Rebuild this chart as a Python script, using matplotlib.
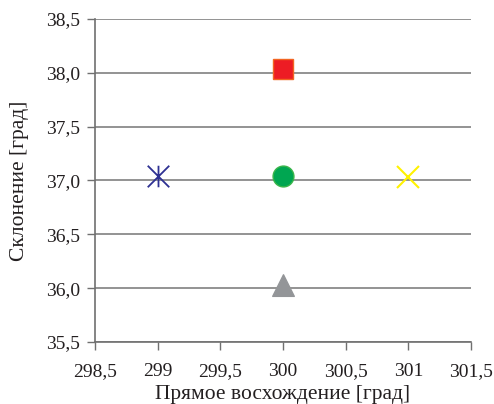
import matplotlib
matplotlib.use("Agg")
import matplotlib.pyplot as plt
from matplotlib.path import Path

plt.rcParams['font.family'] = 'serif'
plt.rcParams['font.serif'] = ['Liberation Serif', 'Times New Roman', 'DejaVu Serif']
FAM = ['Liberation Serif', 'DejaVu Serif']

# data
ra = [299.0, 300.0, 300.0, 301.0, 300.0]
dec = [37.04, 38.04, 37.04, 37.03, 36.03]
markers = ['star6', 's', 'o', 'x', '^']
colors = ['#2e3192', '#ed1c24', '#00a651', '#fff200', '#939598']
edgecolors = ['#2e3192', '#f26522', '#39b54a', '#fff200', '#939598']

x_ticks = [298.5, 299, 299.5, 300, 300.5, 301, 301.5]
x_labels = ['298,5', '299', '299,5', '300', '300,5', '301', '301,5']
y_ticks = [35.5, 36.0, 36.5, 37.0, 37.5, 38.0, 38.5]
y_labels = ['35,5', '36,0', '36,5', '37,0', '37,5', '38,0', '38,5']

star_path = Path([(0, -1), (0, 1), (-1, -1), (1, 1), (-1, 1), (1, -1)],
                 [Path.MOVETO, Path.LINETO, Path.MOVETO, Path.LINETO, Path.MOVETO, Path.LINETO])

fig = plt.figure(figsize=(4.94, 4.04), dpi=100)
ax = fig.add_axes([0.1923, 0.1535, 0.7611, 0.7995])

for x, y, m, c, ec in zip(ra, dec, markers, colors, edgecolors):
    if m == 'star6':
        ax.plot([x], [y], marker=star_path, markersize=15.5, color=c,
                markeredgewidth=1.3, linestyle='none', zorder=3)
    elif m == 'x':
        ax.plot([x], [y], marker='x', markersize=15.5, color=c,
                markeredgewidth=1.5, linestyle='none', zorder=3)
    elif m == '^':
        ax.plot([x], [y], marker='^', markersize=16.5, color=c,
                markeredgecolor=ec, markeredgewidth=0.8, linestyle='none', zorder=3)
    else:
        ax.plot([x], [y], marker=m, markersize=15, color=c,
                markeredgecolor=ec, markeredgewidth=1.0, linestyle='none', zorder=3)

ax.set_xlim(298.5, 301.5)
ax.set_ylim(35.5, 38.5)
ax.set_xticks(x_ticks)
ax.set_xticklabels(x_labels, family=FAM, fontsize=14, color='#231f20')
ax.set_yticks(y_ticks)
ax.set_yticklabels(y_labels, family=FAM, fontsize=14, color='#231f20')

ax.grid(axis='y', color='#808080', linewidth=1.2)
ax.set_axisbelow(True)
for s in ['top', 'right']:
    ax.spines[s].set_visible(False)
for s in ['left', 'bottom']:
    ax.spines[s].set_color('#707070')
    ax.spines[s].set_linewidth(1.2)
ax.tick_params(axis='x', direction='out', length=6, width=1.0, color='#707070', pad=9)
ax.tick_params(axis='y', direction='out', length=6, width=1.0, color='#707070', pad=5)

ax.set_xlabel('Прямое восхождение [град]', family=FAM, fontsize=15.5, color='#231f20', labelpad=4)
ax.set_ylabel('Склонение [град]', family=FAM, fontsize=15.5, color='#231f20', labelpad=12)

fig.savefig('out.png', dpi=100)
